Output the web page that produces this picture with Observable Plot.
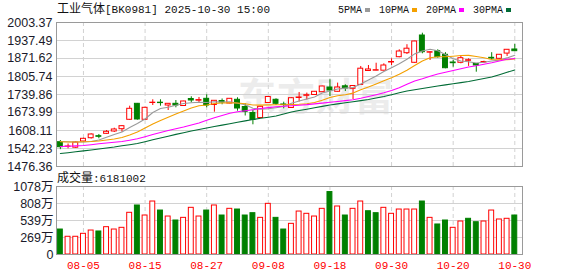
<!DOCTYPE html>
<html><head><meta charset="utf-8">
<script src="https://cdn.jsdelivr.net/npm/d3@7"></script>
<script src="https://cdn.jsdelivr.net/npm/@observablehq/plot@0.6"></script>
<style>
html,body{margin:0;padding:0;background:#fff;}
#wrap{position:relative;width:578px;height:276px;overflow:hidden;}
.t{position:absolute;white-space:nowrap;line-height:12px;color:#111;}
.cjk{font-family:"Noto Sans CJK SC",sans-serif;font-size:12px;}
.mono{font-family:"Liberation Mono",monospace;font-size:10px;}
.sq{display:inline-block;width:5px;height:4px;margin-left:3px;margin-right:9px;vertical-align:1px;}
#wm{position:absolute;left:238px;top:66px;font-family:"Noto Sans CJK SC",sans-serif;font-weight:bold;font-size:38px;color:#ececec;letter-spacing:1px;}
svg{position:absolute;left:0;}
</style></head><body><div id="wrap"><div id="wm">东方财富</div></div>
<script>
const title = "工业气体";
const code = "[BK0981] 2025-10-30 15:00";
const dates = ["07-31","08-01","08-04","08-05","08-06","08-07","08-08","08-11","08-12","08-13","08-14","08-15","08-18","08-19","08-20","08-21","08-22","08-25","08-26","08-27","08-28","08-29","09-01","09-02","09-03","09-04","09-05","09-08","09-09","09-10","09-11","09-12","09-15","09-16","09-17","09-18","09-19","09-22","09-23","09-24","09-25","09-26","09-29","09-30","10-09","10-10","10-13","10-14","10-15","10-16","10-17","10-20","10-21","10-22","10-23","10-24","10-27","10-28","10-29","10-30"];
const tickLabels = ["08-05","08-15","08-27","09-08","09-18","09-30","10-20","10-30"];
const open = [1565.3,1548.5,1545.2,1567.9,1579.9,1587.3,1596.0,1604.5,1612.9,1647.3,1705.8,1647.3,1708.8,1709.9,1699.6,1705.8,1697.8,1723.4,1717.2,1724.1,1701.5,1716.1,1706.9,1720.5,1694.1,1672.2,1653.9,1708.8,1720.5,1703.3,1690.5,1727.1,1735.1,1738.1,1748.3,1765.5,1749.8,1769.9,1760.7,1775.0,1825.9,1827.0,1827.0,1857.0,1876.4,1891.0,1855.9,1955.8,1892.9,1898.4,1885.2,1857.0,1855.9,1863.2,1851.5,1857.0,1874.2,1870.5,1889.6,1904.6];
const high = [1571.5,1558.7,1567.9,1579.9,1596.0,1593.5,1608.1,1616.5,1626.4,1697.1,1707.0,1693.0,1720.5,1720.5,1706.9,1717.9,1715.0,1731.5,1728.9,1738.8,1717.9,1723.4,1725.2,1727.8,1705.8,1681.3,1696.0,1732.6,1724.1,1711.7,1727.8,1747.2,1745.0,1750.9,1770.5,1793.7,1781.6,1775.4,1771.8,1842.4,1846.0,1854.4,1852.2,1870.5,1903.5,1922.1,1935.0,1964.2,1895.5,1903.5,1892.9,1864.3,1879.0,1870.5,1852.5,1861.8,1892.9,1886.3,1904.5,1923.2];
const low = [1537.9,1541.1,1542.2,1564.2,1576.6,1577.7,1593.5,1600.8,1601.9,1645.0,1646.0,1645.0,1699.6,1697.1,1681.3,1691.2,1697.1,1709.5,1706.9,1691.2,1675.1,1702.2,1705.8,1678.8,1661.2,1629.0,1653.1,1706.9,1699.6,1687.5,1689.7,1712.4,1719.7,1736.2,1747.0,1732.6,1748.3,1750.9,1721.6,1775.0,1825.2,1826.6,1826.6,1846.0,1874.2,1886.3,1854.0,1888.8,1864.3,1872.8,1834.0,1839.8,1852.2,1842.7,1821.5,1854.4,1864.3,1869.5,1879.0,1898.4];
const close = [1547.0,1549.6,1564.2,1577.7,1593.5,1585.1,1603.4,1611.8,1623.9,1687.5,1648.4,1691.2,1709.9,1708.4,1705.8,1699.6,1714.3,1717.9,1719.4,1699.6,1716.8,1710.6,1724.1,1688.6,1676.6,1646.6,1694.9,1730.7,1705.8,1701.5,1726.3,1728.9,1737.3,1749.8,1769.2,1754.5,1765.5,1761.8,1771.0,1834.3,1831.4,1828.8,1846.0,1858.8,1897.3,1907.5,1933.9,1894.7,1894.7,1876.4,1836.1,1854.4,1872.7,1865.4,1846.0,1858.8,1871.6,1885.2,1903.5,1898.4];
const ma5 = [1567.9,1566.8,1566.0,1566.0,1567.9,1573.4,1583.2,1593.5,1602.6,1619.1,1633.7,1650.2,1674.0,1688.6,1693.4,1700.4,1706.9,1709.5,1711.7,1710.6,1713.2,1712.4,1713.5,1708.0,1702.6,1689.7,1686.1,1687.5,1691.6,1696.0,1707.7,1716.1,1723.4,1730.7,1745.4,1752.7,1760.0,1763.3,1765.5,1777.9,1793.0,1807.6,1824.1,1838.0,1852.2,1868.7,1888.5,1899.1,1905.3,1900.2,1886.3,1870.5,1862.5,1859.6,1855.2,1857.7,1862.5,1865.8,1873.8,1883.4];
const ma10 = [1566.8,1566.0,1566.0,1566.8,1567.9,1569.7,1573.4,1577.0,1582.5,1591.7,1602.6,1617.3,1631.9,1644.7,1656.4,1668.5,1679.5,1690.1,1698.9,1701.5,1706.9,1708.8,1709.9,1708.8,1705.8,1701.5,1701.1,1702.0,1702.3,1702.6,1703.0,1704.0,1706.0,1710.6,1719.0,1728.9,1735.5,1739.2,1745.0,1757.1,1767.3,1778.3,1790.0,1801.4,1813.8,1828.8,1846.0,1862.5,1874.2,1878.2,1878.2,1880.1,1882.6,1883.0,1879.0,1874.2,1868.0,1866.9,1867.3,1869.8];
const ma20 = [1549.6,1550.7,1551.8,1553.2,1556.2,1559.4,1562.4,1564.9,1567.9,1572.6,1577.7,1585.4,1593.5,1600.8,1608.1,1614.7,1620.9,1628.3,1635.6,1645.8,1654.6,1663.0,1671.1,1676.6,1680.6,1684.3,1688.6,1692.0,1695.0,1697.0,1698.8,1700.6,1702.7,1705.5,1708.4,1711.5,1714.5,1717.5,1720.5,1726.0,1732.5,1739.0,1746.1,1754.5,1764.8,1777.6,1789.3,1797.7,1806.9,1814.9,1821.1,1827.7,1834.3,1840.5,1844.9,1850.8,1855.9,1862.5,1868.7,1871.6];
const ma30 = [1523.9,1526.9,1530.2,1533.5,1536.8,1540.4,1544.1,1547.7,1552.1,1556.2,1560.5,1567.1,1574.1,1580.7,1587.3,1593.9,1600.1,1606.3,1611.8,1617.3,1622.8,1627.9,1633.0,1638.1,1643.3,1648.4,1652.8,1656.8,1661.2,1668.5,1675.8,1681.0,1686.1,1691.2,1696.3,1701.5,1705.5,1709.5,1713.5,1717.6,1721.6,1727.1,1732.6,1739.2,1746.1,1752.7,1757.5,1761.8,1766.6,1771.0,1775.0,1779.4,1783.4,1787.5,1793.0,1798.4,1803.9,1812.4,1821.1,1829.6];
const vol = [396,281,281,328,380,365,433,396,423,661,777,618,840,697,602,539,581,740,602,697,777,618,724,713,618,655,581,803,581,396,486,681,645,602,724,990,761,618,724,840,686,655,740,645,713,713,713,840,581,476,539,423,523,566,512,523,697,555,566,618.1002];
const volUp = [0,1,1,1,1,0,1,1,1,1,0,1,1,0,1,0,1,1,1,0,1,0,1,0,0,0,1,1,0,0,1,1,1,1,1,0,1,0,1,1,0,0,1,1,1,1,1,0,1,0,0,1,1,0,0,1,1,1,1,0];
const priceTicks = [1476.36,1542.23,1608.11,1673.99,1739.86,1805.74,1871.62,1937.49,2003.37];
const volTicks = [0,269.5,539,808.5,1078];
const volTickLabels = ["0","269万","539万","808万","1078万"];
const maNames = ["5PMA","10PMA","20PMA","30PMA"];
const maColors = ["#9a9a9a","#f4a000","#ff00ff","#006b35"];
const volLabel = "成交量";

const RED = "#ff0000", GREEN = "#008000", GRID = "#d2d2d2", BORDER = "#9a9a9a";
const xDom = [-0.5, 60];
const candles = dates.map((d,i)=>({i,o:open[i],h:high[i],l:low[i],c:close[i],up:close[i]>=open[i]}));
const ups = candles.filter(d=>d.up), downs = candles.filter(d=>!d.up);
const tickIdx = tickLabels.map(t=>dates.indexOf(t));
const maSeries = [ma5,ma10,ma20,ma30].map((arr,k)=>arr.map((v,i)=>({i,v,k})));
const hw = 0.32;

const price = Plot.plot({
  width:578, height:170, marginTop:22, marginBottom:4, marginLeft:56, marginRight:56,
  style:{background:"transparent", overflow:"visible"},
  x:{domain:xDom, axis:null},
  y:{domain:[1476.36,2003.37], axis:null},
  marks:[
    Plot.ruleY(priceTicks.slice(1,-1), {stroke:GRID}),
    Plot.ruleX(tickIdx, {stroke:GRID, strokeDasharray:"4,3"}),
    Plot.ruleX(ups, {x:"i", y1:"l", y2:"h", stroke:RED}),
    Plot.ruleX(downs, {x:"i", y1:"l", y2:"h", stroke:GREEN}),
    Plot.rect(ups, {x1:d=>d.i-hw, x2:d=>d.i+hw, y1:"o", y2:"c", fill:"#fff", stroke:RED}),
    Plot.rect(downs, {x1:d=>d.i-hw, x2:d=>d.i+hw, y1:"o", y2:"c", fill:GREEN, stroke:GREEN}),
    ...maSeries.map((s,k)=>Plot.line(s, {x:"i", y:"v", stroke:maColors[k], strokeWidth:1.1})),
    Plot.frame({stroke:BORDER}),
    Plot.axisY(priceTicks, {anchor:"left", tickSize:0, tickPadding:4, tickFormat:d=>d.toFixed(2), fontSize:12.5, fontFamily:"Liberation Sans", fill:"#1a1a2a", label:null})
  ]
});
price.style.top = "0px";

const vd = vol.map((v,i)=>({i,v,up:volUp[i]===1}));
const volPlot = Plot.plot({
  width:578, height:106, marginTop:16, marginBottom:22, marginLeft:56, marginRight:56,
  style:{background:"transparent", overflow:"visible"},
  x:{domain:xDom, axis:null},
  y:{domain:[0,1078], axis:null},
  marks:[
    Plot.ruleY(volTicks.slice(1,-1), {stroke:GRID}),
    Plot.ruleX(tickIdx, {stroke:GRID, strokeDasharray:"4,3"}),
    Plot.rect(vd.filter(d=>d.up), {x1:d=>d.i-hw, x2:d=>d.i+hw, y1:0, y2:"v", fill:"#fff", stroke:RED}),
    Plot.rect(vd.filter(d=>!d.up), {x1:d=>d.i-hw, x2:d=>d.i+hw, y1:0, y2:"v", fill:GREEN, stroke:GREEN}),
    Plot.frame({stroke:BORDER}),
    Plot.axisY(volTicks, {anchor:"left", tickSize:0, tickPadding:3, tickFormat:(d,i)=>volTickLabels[volTicks.indexOf(d)], fontSize:12.5, fontFamily:"Liberation Sans, Noto Sans CJK SC", fill:"#1a1a2a", label:null}),
    Plot.axisX(tickIdx, {anchor:"bottom", tickSize:0, tickPadding:7, tickFormat:i=>dates[i], fontSize:11, fontFamily:"Liberation Mono", fill:RED, label:null})
  ]
});
volPlot.style.top = "170px";

const wrap = document.getElementById("wrap");
wrap.appendChild(price);
wrap.appendChild(volPlot);

function addText(html, left, top){
  const d = document.createElement("div");
  d.className = "t"; d.style.left = left+"px"; d.style.top = top+"px";
  d.innerHTML = html; wrap.appendChild(d); return d;
}
addText(`<span class="cjk">${title}</span><span class="mono" style="font-size:11px">${code}</span>`, 57, 2);
addText(maNames.map((n,k)=>`<span class="mono">${n}</span><span class="sq" style="background:${maColors[k]}"></span>`).join(""), 338, 2);
addText(`<span class="cjk">${volLabel}</span><span class="mono" style="font-size:11px">:${Math.round(vol[vol.length-1]*10000)}</span>`, 57, 171);
</script>
</body></html>
